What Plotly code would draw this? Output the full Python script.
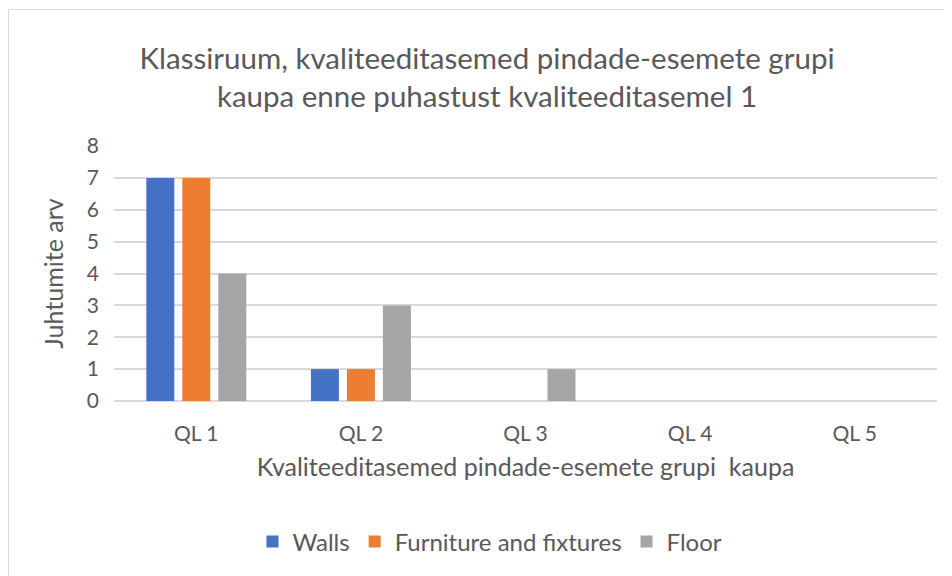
import plotly.graph_objects as go

categories = ["QL 1", "QL 2", "QL 3", "QL 4", "QL 5"]
walls = [7, 1, 0, 0, 0]
furniture = [7, 1, 0, 0, 0]
floor = [4, 3, 1, 0, 0]
series_names = ["Walls", "Furniture and fixtures", "Floor"]
colors = ["#4472C4", "#ED7D31", "#A5A5A5"]

FONT = "Lato"
TXT = "#595959"

fig = go.Figure()
for name, vals, col in zip(series_names, [walls, furniture, floor], colors):
    fig.add_trace(go.Bar(name=name, x=categories, y=vals, marker=dict(color=col, line=dict(width=0))))

# page body has an 8px margin, so figure coordinates = window coordinates - 8
OFF = 8
W, H = 952 - OFF, 576 - OFF
L = 114 - OFF
R = W - (937 - OFF)
T = 146 - OFF
B = H - (403 - OFF)
pw = W - L - R
ph = H - T - B

def px_x(x):
    return (x - OFF - L) / pw

def px_y(y):
    return (H - B - (y - OFF)) / ph

fig.update_layout(
    width=W, height=H,
    margin=dict(l=L, r=R, t=T, b=B),
    paper_bgcolor="white", plot_bgcolor="white",
    barmode="group", bargap=0.344, bargroupgap=0.222,
    font=dict(family=FONT, color=TXT, size=21),
    title=dict(
        text="Klassiruum, kvaliteeditasemed pindade-esemete grupi<br>kaupa enne puhastust kvaliteeditasemel 1",
        x=(487 - OFF) / W, xanchor="center", xref="container",
        y=1 - (69 - OFF) / H, yanchor="middle", yref="container",
        font=dict(family=FONT, size=29.5, color=TXT),
    ),
    xaxis=dict(
        showgrid=False, showline=False, zeroline=False,
        ticks="", ticklabelstandoff=18,
        tickfont=dict(size=21, color=TXT),
        title=dict(text="Kvaliteeditasemed pindade-esemete grupi  kaupa", standoff=14,
                   font=dict(size=25, color=TXT)),
    ),
    yaxis=dict(
        range=[0, 8], dtick=1, showgrid=True, gridcolor="#D9D9D9", gridwidth=1.5,
        zeroline=True, zerolinecolor="#D9D9D9", zerolinewidth=1.5, showline=False,
        ticks="", ticklabelstandoff=14,
        tickfont=dict(size=21, color=TXT),
        title=dict(text="Juhtumite arv", standoff=16, font=dict(size=25, color=TXT)),
    ),
    legend=dict(
        orientation="h", x=px_x(490), xanchor="center", y=px_y(545), yanchor="middle",
        font=dict(size=24, color=TXT), itemwidth=30, traceorder="normal",
    ),
    showlegend=True,
)

fig.add_shape(type="rect", xref="paper", yref="paper",
              x0=px_x(8.5), x1=px_x(1000), y0=px_y(640), y1=px_y(8.5),
              line=dict(color="#D9D9D9", width=1), fillcolor="rgba(0,0,0,0)", layer="below")

fig.write_html("out.html")
